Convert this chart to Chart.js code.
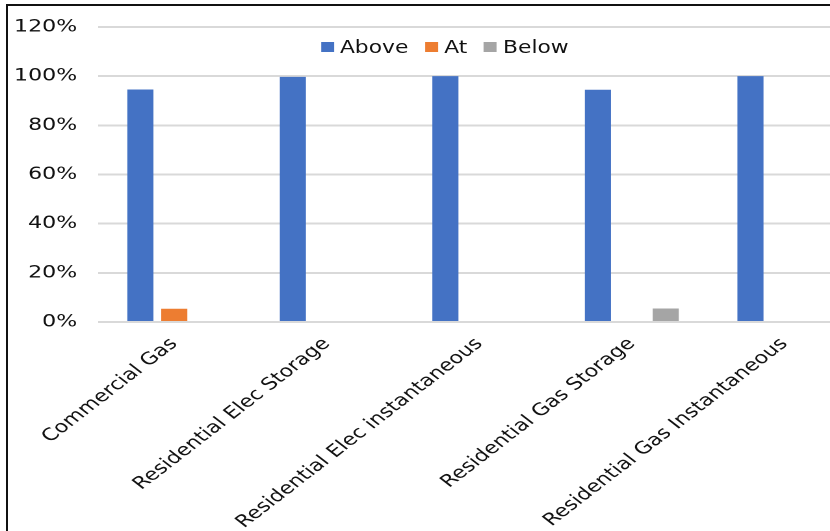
<!DOCTYPE html>
<html>
<head>
<meta charset="utf-8">
<script src="https://cdn.jsdelivr.net/npm/chart.js@4"></script>
<style>
  html, body { margin: 0; padding: 0; width: 830px; height: 531px; overflow: hidden; background: #fff; }
  #frame { position: absolute; left: 6px; top: 4px; width: 900px; height: 600px;
           border-left: 2px solid #111; border-top: 2px solid #111; }
  /* the whole chart is drawn narrow and stretched sideways */
  #stretch { position: absolute; left: 0; top: 0; transform: scaleX(1.3); transform-origin: 0 0; }
  #legend { position: absolute; left: 247px; top: 37px; height: 20px; display: flex; align-items: center;
            font: 16.8px "DejaVu Sans", sans-serif; color: #111; white-space: nowrap; }
  #legend .item { display: flex; align-items: center; margin-right: 13px; }
  #legend .box { width: 10px; height: 10px; margin-right: 4.5px; }
</style>
</head>
<body>
<div id="frame"></div>
<div id="stretch">
  <canvas id="grafico" width="662" height="562"></canvas>
  <div id="legend"></div>
</div>
<script>
const categorias = [
  "Commercial Gas",
  "Residential Elec Storage",
  "Residential Elec instantaneous",
  "Residential Gas Storage",
  "Residential Gas Instantaneous"
]
const above = [94.6, 99.7, 100, 94.5, 100]
const at = [5.4, 0, 0, 0, 0]
const below = [0, 0, 0, 5.5, 0]

const series = [
  { label: "Above", data: above, color: "#4472c4" },
  { label: "At", data: at, color: "#ed7d31" },
  { label: "Below", data: below, color: "#a5a5a5" }
]

const fuente = { family: "'DejaVu Sans', sans-serif", size: 17 }

const legend = document.getElementById("legend")
series.forEach((s) => {
  const item = document.createElement("div")
  item.className = "item"
  const box = document.createElement("span")
  box.className = "box"
  box.style.background = s.color
  const txt = document.createElement("span")
  txt.textContent = s.label
  item.appendChild(box)
  item.appendChild(txt)
  legend.appendChild(item)
})

new Chart(document.getElementById("grafico"), {
  type: "bar",
  data: {
    labels: categorias,
    datasets: series.map((s) => ({
      label: s.label,
      data: s.data,
      backgroundColor: s.color,
      borderWidth: 0,
      categoryPercentage: 0.667,
      barPercentage: 0.77
    }))
  },
  options: {
    responsive: false,
    animation: false,
    devicePixelRatio: 2,
    layout: { padding: { top: 27, left: 0, right: 0, bottom: 0 } },
    plugins: {
      legend: { display: false },
      tooltip: { enabled: false }
    },
    scales: {
      x: {
        grid: { display: false },
        border: { display: false },
        ticks: {
          autoSkip: false,
          maxRotation: 45,
          minRotation: 45,
          padding: 4,
          color: "#111",
          font: fuente
        },
        afterFit: (scale) => { scale.height = 240 }
      },
      y: {
        min: 0,
        max: 120,
        grid: { color: "#d9d9d9", lineWidth: 2, drawTicks: false },
        border: { display: false },
        ticks: {
          stepSize: 20,
          padding: 16,
          color: "#111",
          font: fuente,
          callback: (v) => v + "%"
        },
        afterFit: (scale) => { scale.width = 75.4 }
      }
    }
  }
})
</script>
</body>
</html>
